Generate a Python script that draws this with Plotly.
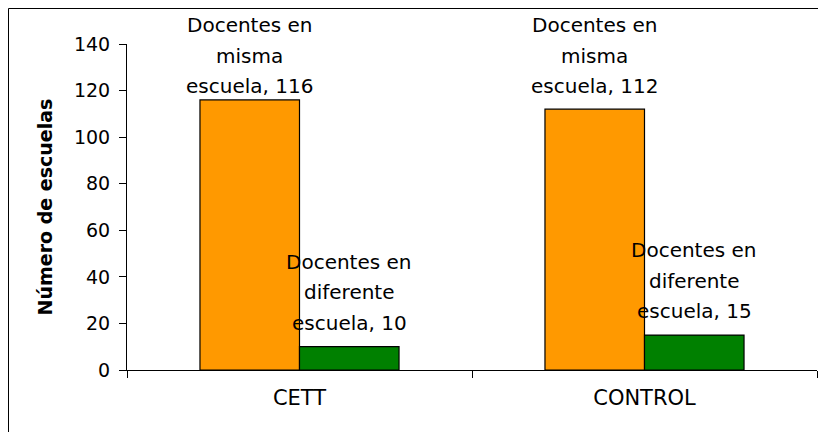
import plotly.graph_objects as go

groups = ["CETT", "CONTROL"]
series_names = ["Docentes en misma escuela", "Docentes en diferente escuela"]
misma = [116, 112]
diferente = [10, 15]
label_lines = [
    ["Docentes en", "misma", "escuela, "],
    ["Docentes en", "diferente", "escuela, "],
]
colors = ["#FF9900", "#008000"]

# the page puts the figure 8px in from the corner, so size it to fit inside
W, H = 810, 424
L, R, T, B = 119, 1, 36, 62
Y_MAX = 140
BARGAP = 0.423
FONT = "DejaVu Sans, Verdana, sans-serif"

plot_w = W - L - R
plot_h = H - T - B

fig = go.Figure()
for name, values, color in zip(series_names, [misma, diferente], colors):
    fig.add_trace(
        go.Bar(
            x=groups,
            y=values,
            name=name,
            marker={"color": color, "line": {"color": "#000000", "width": 1.2}},
            hoverinfo="skip",
        )
    )

# data labels, one annotation per line to get Excel's wide line spacing
line_gap = 30.5
half_bar = (1 - BARGAP) / 4
for s, values in enumerate([misma, diferente]):
    lines = label_lines[s]
    offset = -half_bar if s == 0 else half_bar
    for g, value in enumerate(values):
        bar_top = T + plot_h * (1 - value / Y_MAX)
        shift = min(24, bar_top - 17 - (len(lines) - 1) * line_gap)
        for i, line in enumerate(lines):
            text = line + (str(value) if i == len(lines) - 1 else "")
            fig.add_annotation(
                x=g + offset,
                y=value,
                xref="x",
                yref="y",
                text=text,
                showarrow=False,
                yanchor="middle",
                yshift=shift + (len(lines) - 1 - i) * line_gap,
                font={"family": FONT, "size": 20, "color": "#000000"},
            )

# chart frame; only its top and left edges are inside the picture
fig.add_shape(
    type="rect",
    xref="paper",
    yref="paper",
    x0=(0.5 - L) / plot_w,
    x1=(W + 20 - L) / plot_w,
    y0=-(B + 20) / plot_h,
    y1=1 + (T - 0.5) / plot_h,
    line={"color": "#000000", "width": 1},
    layer="below",
)

fig.update_layout(
    width=W,
    height=H,
    margin={"l": L, "r": R, "t": T, "b": B},
    paper_bgcolor="#FFFFFF",
    plot_bgcolor="#FFFFFF",
    barmode="group",
    bargap=BARGAP,
    bargroupgap=0,
    showlegend=False,
    font={"family": FONT, "size": 19, "color": "#000000"},
    xaxis={
        "type": "category",
        "showline": True,
        "linecolor": "#000000",
        "linewidth": 1,
        "ticks": "outside",
        "tickson": "boundaries",
        "ticklen": 7,
        "tickcolor": "#000000",
        "ticklabelstandoff": 9,
        "showgrid": False,
        "tickfont": {"size": 21},
    },
    yaxis={
        "range": [0, Y_MAX],
        "dtick": 20,
        "showline": True,
        "linecolor": "#000000",
        "linewidth": 1,
        "ticks": "outside",
        "ticklen": 7,
        "tickcolor": "#000000",
        "ticklabelstandoff": 5,
        "showgrid": False,
        "zeroline": False,
        "tickfont": {"size": 19},
        "title": {
            "text": "<b>Número de escuelas</b>",
            "font": {"size": 19},
            "standoff": 16,
        },
    },
)

fig.write_html("out.html")
